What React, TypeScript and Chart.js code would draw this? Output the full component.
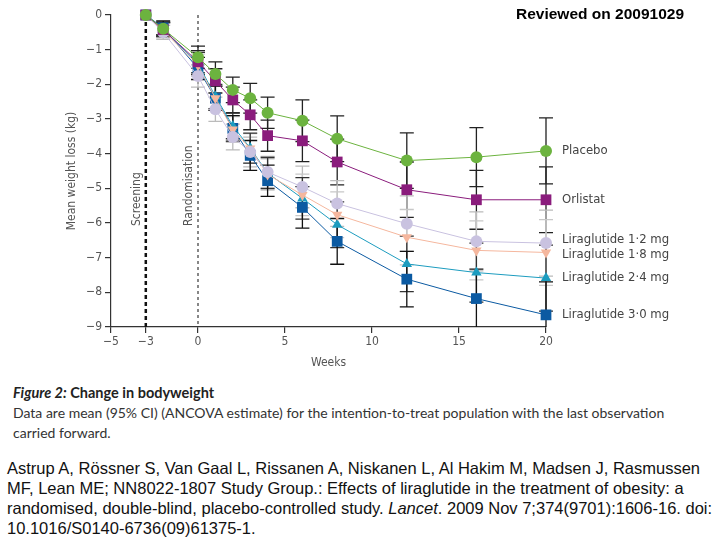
import React, { useEffect, useRef } from "react";
import { Chart, registerables } from "chart.js";

Chart.register(...registerables);

const weeks = [-3, -2, 0, 1, 2, 3, 4, 6, 8, 12, 16, 20];
const placebo = [0, -0.4, -1.22, -1.7, -2.16, -2.4, -2.82, -3.05, -3.57, -4.2, -4.1, -3.92];
const orlistat = [0, -0.42, -1.35, -1.9, -2.45, -2.88, -3.48, -3.63, -4.24, -5.04, -5.33, -5.33];
const lira12 = [0, -0.5, -1.76, -2.72, -3.52, -3.95, -4.53, -4.96, -5.44, -6.02, -6.53, -6.58];
const lira18 = [0, -0.45, -1.45, -2.4, -3.3, -3.85, -4.6, -5.19, -5.76, -6.41, -6.79, -6.85];
const lira24 = [0, -0.42, -1.4, -2.35, -3.2, -3.84, -4.56, -5.29, -6.05, -7.18, -7.43, -7.59];
const lira30 = [0, -0.37, -1.54, -2.4, -3.27, -4.05, -4.78, -5.55, -6.53, -7.62, -8.18, -8.65];
const ciHalf = [0, 0.2, 0.32, 0.35, 0.37, 0.43, 0.45, 0.6, 0.66, 0.8, 0.85, 0.95];

const seriesNames = [
  "Placebo",
  "Orlistat",
  "Liraglutide 1·2 mg",
  "Liraglutide 1·8 mg",
  "Liraglutide 2·4 mg",
  "Liraglutide 3·0 mg",
];
const seriesValues = [placebo, orlistat, lira12, lira18, lira24, lira30];
const xTicks = [-5, -3, 0, 5, 10, 15, 20];

const colors = ["#6cb33f", "#8a1c7c", "#c9c2e0", "#f5b79e", "#1c9cbf", "#0b5aa2"];
const ciColors = ["#222", "#222", "#bbb", "#c8c8c8", "#333", "#111"];
const pointStyles = ["circle", "rect", "circle", "triangle", "triangle", "rect"];
const rotations = [0, 0, 0, 180, 0, 0];
const radii = [6, 7.6, 6, 6, 6, 7.6];
const labelOffsets = [0, 0, -3, 2, 0, 0];

const FONT = "'Liberation Sans Narrow', 'DejaVu Sans Condensed', 'Open Sans', sans-serif";
const fmt = (v: number) => (v < 0 ? "\u2212" + Math.abs(v) : String(v));

const overlayPlugin = {
  id: "overlay",
  beforeDatasetsDraw(chart: any) {
    const { ctx, chartArea, scales } = chart;
    const x = scales.x;
    const y = scales.y;
    ctx.save();
    ctx.strokeStyle = "#111";
    ctx.lineWidth = 2.5;
    ctx.setLineDash([4, 3]);
    ctx.beginPath();
    ctx.moveTo(x.getPixelForValue(-3), chartArea.top);
    ctx.lineTo(x.getPixelForValue(-3), chartArea.bottom);
    ctx.stroke();
    ctx.lineWidth = 1;
    ctx.setLineDash([3, 3]);
    ctx.beginPath();
    ctx.moveTo(x.getPixelForValue(0), chartArea.top);
    ctx.lineTo(x.getPixelForValue(0), chartArea.bottom);
    ctx.stroke();
    ctx.setLineDash([]);
    ctx.beginPath();
    ctx.rect(chartArea.left, chartArea.top - 10, chartArea.right - chartArea.left + 10, chartArea.bottom - chartArea.top + 10);
    ctx.clip();
    seriesValues.forEach((vals, si) => {
      ctx.strokeStyle = ciColors[si];
      ctx.lineWidth = 1.3;
      vals.forEach((v, i) => {
        const h = ciHalf[i];
        if (h <= 0) return;
        const px = x.getPixelForValue(weeks[i]);
        const y1 = y.getPixelForValue(v + h);
        const y2 = y.getPixelForValue(v - h);
        ctx.beginPath();
        ctx.moveTo(px, y1);
        ctx.lineTo(px, y2);
        ctx.moveTo(px - 7, y1);
        ctx.lineTo(px + 7, y1);
        ctx.moveTo(px - 7, y2);
        ctx.lineTo(px + 7, y2);
        ctx.stroke();
      });
    });
    ctx.restore();
  },
  afterDatasetsDraw(chart: any) {
    const { ctx, chartArea, scales } = chart;
    const x = scales.x;
    const y = scales.y;
    ctx.save();
    ctx.fillStyle = "#444";
    ctx.font = `13px ${FONT}`;
    ctx.textBaseline = "middle";
    ctx.textAlign = "left";
    seriesNames.forEach((name, si) => {
      const vals = seriesValues[si];
      const py = y.getPixelForValue(vals[vals.length - 1]) + labelOffsets[si];
      ctx.fillText(name, x.getPixelForValue(20) + 16, py);
    });
    ctx.fillStyle = "#555";
    ctx.font = `12px ${FONT}`;
    ctx.textAlign = "left";
    const drawVert = (text: string, px: number, pyBottom: number) => {
      ctx.save();
      ctx.translate(px, pyBottom);
      ctx.rotate(-Math.PI / 2);
      ctx.textBaseline = "middle";
      ctx.fillText(text, 0, 0);
      ctx.restore();
    };
    drawVert("Screening", x.getPixelForValue(-3) - 9, 226);
    drawVert("Randomisation", x.getPixelForValue(0) - 9, 226);
    ctx.fillStyle = "#555";
    ctx.font = `12px ${FONT}`;
    ctx.textAlign = "center";
    ctx.textBaseline = "middle";
    ctx.fillText("Weeks", (chartArea.left + chartArea.right) / 2, 363);
    ctx.save();
    ctx.translate(72, (chartArea.top + chartArea.bottom) / 2);
    ctx.rotate(-Math.PI / 2);
    ctx.fillText("Mean weight loss (kg)", 0, 0);
    ctx.restore();
    ctx.restore();
  },
};

function ChartView() {
  const ref = useRef<HTMLCanvasElement | null>(null);
  useEffect(() => {
    if (!ref.current) return;
    const datasets = seriesNames.map((name, si) => ({
      label: name,
      data: weeks.map((w, i) => ({ x: w, y: seriesValues[si][i] })),
      borderColor: colors[si],
      backgroundColor: colors[si],
      borderWidth: 1,
      pointStyle: pointStyles[si] as any,
      pointRotation: rotations[si],
      pointRadius: radii[si],
      pointBorderWidth: 0,
      pointBackgroundColor: colors[si],
      clip: false as any,
      tension: 0,
    }));
    const chart = new Chart(ref.current, {
      type: "line",
      data: { datasets },
      plugins: [overlayPlugin],
      options: {
        animation: false,
        responsive: false,
        maintainAspectRatio: false,
        layout: { padding: { left: 0, right: 174, top: 15, bottom: 0 } },
        plugins: { legend: { display: false }, tooltip: { enabled: false } },
        scales: {
          x: {
            type: "linear",
            min: -5,
            max: 20,
            afterBuildTicks: (scale: any) => {
              scale.ticks = xTicks.map((v) => ({ value: v }));
            },
            afterFit: (scale: any) => {
              scale.height = 53;
            },
            grid: { display: true, drawOnChartArea: false, drawTicks: true, tickLength: 6, color: "#333", lineWidth: 1.2 },
            border: { display: true, color: "#333", width: 1.2 },
            ticks: {
              color: "#555",
              font: { family: FONT, size: 12 },
              padding: 2,
              maxRotation: 0,
              autoSkip: false,
              callback: (v: any) => fmt(Number(v)),
            },
          },
          y: {
            type: "linear",
            min: -9,
            max: 0,
            afterFit: (scale: any) => {
              scale.width = 111;
            },
            grid: { display: true, drawOnChartArea: false, drawTicks: true, tickLength: 6, color: "#333", lineWidth: 1.2 },
            border: { display: true, color: "#333", width: 1.2 },
            ticks: {
              stepSize: 1,
              color: "#555",
              font: { family: FONT, size: 12 },
              padding: 3,
              callback: (v: any) => fmt(Number(v)),
            },
          },
        },
      },
    });
    return () => chart.destroy();
  }, []);
  return <canvas ref={ref} width={720} height={380} style={{ position: "absolute", left: 0, top: 0, width: 720, height: 380 }} />;
}

export default function App() {
  return (
    <div style={{ position: "fixed", left: 0, top: 0, width: 720, height: 540, background: "#fff", overflow: "hidden" }}>
      <ChartView />
      <div
        style={{
          position: "absolute",
          left: 516,
          top: 5,
          fontFamily: "'Liberation Sans', Arial, sans-serif",
          fontWeight: "bold",
          fontSize: 15.5,
          color: "#000",
          whiteSpace: "nowrap",
        }}
      >
        Reviewed on 20091029
      </div>
      <div
        style={{
          position: "absolute",
          left: 13,
          top: 383,
          width: 700,
          fontFamily: "Lato, 'Open Sans', sans-serif",
          fontSize: 14,
          lineHeight: "20px",
          color: "#333",
          whiteSpace: "nowrap",
        }}
      >
        <div style={{ fontWeight: "bold", color: "#222", fontSize: 14.5 }}>
          <i>Figure 2:</i> Change in bodyweight
        </div>
        <div>
          Data are mean (95% CI) (ANCOVA estimate) for the intention-to-treat population with the last observation
          <br />
          carried forward.
        </div>
      </div>
      <div
        style={{
          position: "absolute",
          left: 7,
          top: 458,
          width: 712,
          fontFamily: "'Liberation Sans', Arial, sans-serif",
          fontSize: 16.5,
          lineHeight: "20px",
          color: "#111",
          whiteSpace: "nowrap",
        }}
      >
        Astrup A, Rössner S, Van Gaal L, Rissanen A, Niskanen L, Al Hakim M, Madsen J, Rasmussen
        <br />
        MF, Lean ME; NN8022-1807 Study Group.: Effects of liraglutide in the treatment of obesity: a
        <br />
        randomised, double-blind, placebo-controlled study. <i>Lancet</i>. 2009 Nov 7;374(9701):1606-16. doi:
        <br />
        10.1016/S0140-6736(09)61375-1.
      </div>
    </div>
  );
}
